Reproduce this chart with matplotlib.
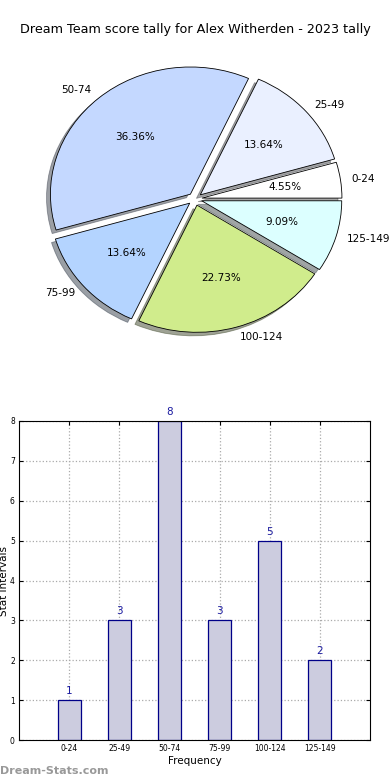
import numpy as np
import matplotlib.pyplot as plt

categories = ["0-24", "25-49", "50-74", "75-99", "100-124", "125-149"]
counts = [1, 3, 8, 3, 5, 2]
pie_colors = ["#ffffff", "#eaf0ff", "#c4d8ff", "#b4d4ff", "#d0ec8c", "#dcffff"]
title = "Dream Team score tally for Alex Witherden - 2023 tally"

fig = plt.figure(figsize=(3.9, 7.8), dpi=100)
fig.text(0.5, 1 - 30 / 780, title, ha="center", va="center", fontsize=9.2)

# pie
ax1 = fig.add_axes([20 / 390, 422 / 780, 350 / 390, 318 / 780])
wedges, texts, autotexts = ax1.pie(
    counts, labels=categories, colors=pie_colors, explode=[0.05] * len(counts),
    autopct="%.2f%%", shadow=True, startangle=0, labeldistance=1.08,
    wedgeprops={"edgecolor": "black", "linewidth": 0.6},
    textprops={"fontsize": 7.5},
)
ax1.set_aspect("auto")
ax1.set_xlim(-1.25, 1.25)
ax1.set_ylim(-1.25, 1.25)

# bars
ax2 = fig.add_axes([19 / 390, 40 / 780, 351 / 390, 319 / 780])
x = np.arange(len(categories))
ax2.bar(x, counts, width=0.46, color="#ccccdf", edgecolor="#000088", linewidth=0.9, zorder=2)
for xi, c in zip(x, counts):
    ax2.text(xi, c + 0.1, str(c), ha="center", va="bottom", fontsize=7.5, color="#1a1aa0")
ax2.set_xlim(-1, 6)
ax2.set_ylim(0, 8)
ax2.set_xticks(x)
ax2.set_xticklabels(categories)
ax2.set_yticks(range(9))
ax2.tick_params(labelsize=5.5, direction="in", top=True, right=True, length=3, pad=3)
ax2.grid(True, linestyle=":", color="#aaaaaa", linewidth=0.9, zorder=0)
ax2.set_axisbelow(True)
ax2.set_xlabel("Frequency", fontsize=7.5, labelpad=2)
ax2.set_ylabel("Stat Intervals", fontsize=7.5, labelpad=1)

fig.text(0.0, 1 - 771 / 780, "Dream-Stats.com", ha="left", va="center",
         fontsize=8, color="#999999", fontweight="bold")

fig.savefig("out.png", dpi=100)
